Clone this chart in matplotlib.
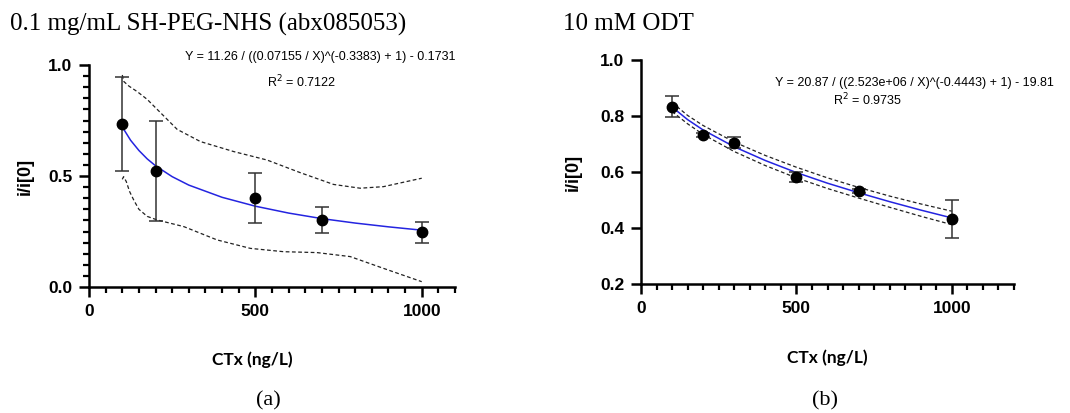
import matplotlib
matplotlib.use("Agg")
import matplotlib.pyplot as plt
from matplotlib.ticker import MultipleLocator, FormatStrFormatter

# ── Data ─────────────────────────────────────────────────────────────────────

# panel (a): SH-PEG-NHS
a_x = [100, 200, 500, 700, 1000]
a_y = [0.734, 0.523, 0.402, 0.302, 0.246]
a_err = [0.212, 0.224, 0.112, 0.057, 0.049]

a_fit_x = [100, 125, 150, 175, 200, 250, 300, 400, 500, 600, 700, 800, 900, 1000]
a_fit_y = [0.721, 0.661, 0.615, 0.577, 0.546, 0.497, 0.459, 0.404, 0.364,
           0.333, 0.308, 0.288, 0.271, 0.256]

a_up_x = [100, 105, 120, 145, 175, 215, 265, 335, 435, 535, 635, 735, 815, 885, 1000]
a_up_y = [0.955, 0.925, 0.905, 0.880, 0.845, 0.785, 0.710, 0.655, 0.610,
          0.572, 0.515, 0.462, 0.445, 0.452, 0.490]
a_lo_x = [100, 104, 112, 122, 135, 150, 175, 205, 285, 385, 485, 585, 685, 785, 885, 1000]
a_lo_y = [0.485, 0.497, 0.475, 0.430, 0.390, 0.350, 0.318, 0.302, 0.272,
          0.212, 0.174, 0.159, 0.155, 0.137, 0.084, 0.024]

# panel (b): ODT
b_x = [100, 200, 300, 500, 700, 1000]
b_y = [0.833, 0.732, 0.705, 0.581, 0.532, 0.431]
b_err = [0.038, 0.008, 0.019, 0.018, 0.006, 0.068]

b_fit_x = [100, 150, 200, 300, 400, 500, 600, 700, 800, 900, 1000]
b_fit_y = [0.832, 0.787, 0.750, 0.690, 0.641, 0.598, 0.560, 0.526, 0.494, 0.464, 0.436]
b_up_y = [0.848, 0.802, 0.766, 0.707, 0.659, 0.617, 0.579, 0.545, 0.514, 0.486, 0.460]
b_lo_y = [0.816, 0.772, 0.734, 0.673, 0.623, 0.579, 0.541, 0.507, 0.474, 0.442, 0.412]

titles = ["0.1 mg/mL SH-PEG-NHS (abx085053)", "10 mM ODT"]
equations = ["Y = 11.26 / ((0.07155 / X)^(-0.3383) + 1) - 0.1731",
             "Y = 20.87 / ((2.523e+06 / X)^(-0.4443) + 1) - 19.81"]
r2_text = ["R$^2$ = 0.7122", "R$^2$ = 0.9735"]
panel_tags = ["(a)", "(b)"]

BLUE = "#2424e0"
SANS = ["Liberation Sans", "DejaVu Sans"]
SERIF = ["Liberation Serif", "DejaVu Serif"]


def style_axis(ax, xmax, ymin, ymax, ymajor, yminor):
    ax.set_xlim(0, xmax)
    ax.set_ylim(ymin, ymax)
    for side in ("top", "right"):
        ax.spines[side].set_visible(False)
    for side in ("left", "bottom"):
        ax.spines[side].set_linewidth(1.8)
    ax.xaxis.set_major_locator(MultipleLocator(500))
    ax.xaxis.set_minor_locator(MultipleLocator(50))
    ax.yaxis.set_major_locator(MultipleLocator(ymajor))
    if yminor:
        ax.yaxis.set_minor_locator(MultipleLocator(yminor))
    else:
        ax.yaxis.set_minor_locator(plt.NullLocator())
    ax.yaxis.set_major_formatter(FormatStrFormatter("%.1f"))
    ax.tick_params(which="major", length=7, width=1.8, pad=5)
    ax.tick_params(which="minor", length=4, width=1.6)
    for lab in ax.get_xticklabels() + ax.get_yticklabels():
        lab.set_fontfamily(SANS)
        lab.set_fontweight("bold")
        lab.set_fontsize(12.5)


def draw_panel(ax, x, y, err, fx, fy, ux, uy, lx, ly):
    ax.plot(ux, uy, color="#222222", lw=0.9, ls=(0, (3, 2)), zorder=2)
    ax.plot(lx, ly, color="#222222", lw=0.9, ls=(0, (3, 2)), zorder=2)
    ax.plot(fx, fy, color=BLUE, lw=1.1, zorder=3)
    ax.errorbar(x, y, yerr=err, fmt="o", color="black", ecolor="#333333",
                ms=7.5, elinewidth=1.1, capsize=5, capthick=1.1, zorder=4)


fig = plt.figure(figsize=(10.7, 4.13), dpi=100)
ax_a = fig.add_axes([89 / 1070, 1 - 287 / 413, 366 / 1070, 222 / 413])
ax_b = fig.add_axes([641 / 1070, 1 - 284 / 413, 373 / 1070, 224 / 413])

draw_panel(ax_a, a_x, a_y, a_err, a_fit_x, a_fit_y, a_up_x, a_up_y, a_lo_x, a_lo_y)
draw_panel(ax_b, b_x, b_y, b_err, b_fit_x, b_fit_y, b_fit_x, b_up_y, b_fit_x, b_lo_y)

style_axis(ax_a, 1100, 0, 1.0, 0.5, 0.05)
style_axis(ax_b, 1200, 0.2, 1.0, 0.2, None)

for ax, lx in ((ax_a, 0.445), (ax_b, 0.5)):
    ax.set_xlabel("CTx (ng/L)", family=["Lato", "DejaVu Sans"], fontweight="bold",
                  fontsize=12.5)
    ax.set_ylabel("i/i[0]", family=SANS, fontweight="bold", fontsize=13)
    ax.xaxis.set_label_coords(lx, -0.29)

ax_a.yaxis.set_label_coords(-0.15, 0.5)
ax_b.yaxis.set_label_coords(-0.16, 0.5)

# equations and R^2
fig.text(320 / 1070, 1 - 57 / 413, equations[0], family=SANS, fontsize=9,
         ha="center", va="center")
fig.text(302 / 1070, 1 - 82 / 413, r2_text[0], family=SANS, fontsize=9,
         ha="center", va="center")
fig.text(914 / 1070, 1 - 83 / 413, equations[1], family=SANS, fontsize=9,
         ha="center", va="center")
fig.text(867 / 1070, 1 - 100 / 413, r2_text[1], family=SANS, fontsize=9,
         ha="center", va="center")

# titles and panel tags
fig.text(10 / 1070, 1 - 24 / 413, titles[0], family=SERIF, fontsize=18,
         ha="left", va="center")
fig.text(563 / 1070, 1 - 24 / 413, titles[1], family=SERIF, fontsize=18,
         ha="left", va="center")
fig.text(268 / 1070, 1 - 401 / 413, panel_tags[0], family=SERIF, fontsize=16,
         ha="center", va="center")
fig.text(825 / 1070, 1 - 401 / 413, panel_tags[1], family=SERIF, fontsize=16,
         ha="center", va="center")

fig.savefig("out.png", dpi=100)
